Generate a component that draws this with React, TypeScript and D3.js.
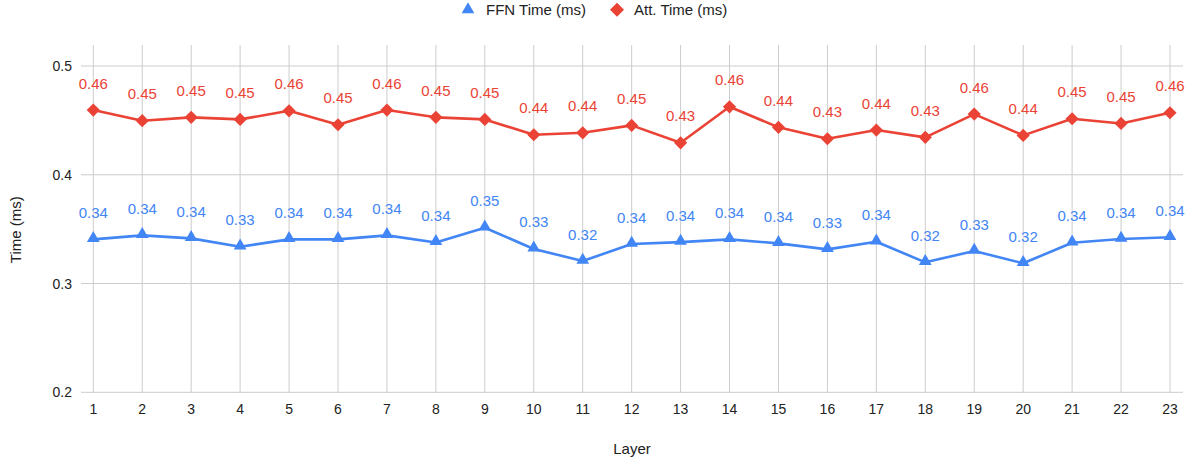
import React from "react";
import * as d3 from "d3";

const layers: number[] = d3.range(1, 24);
const ffnTime: number[] = [0.3406, 0.3443, 0.3415, 0.3338, 0.3406, 0.3406, 0.3443, 0.3378, 0.3513, 0.3318, 0.3207, 0.3363, 0.3381, 0.3406, 0.3369, 0.3314, 0.3384, 0.3195, 0.3299, 0.3186, 0.3375, 0.3409, 0.3425];
const attTime: number[] = [0.4595, 0.4497, 0.4528, 0.4509, 0.4588, 0.446, 0.4595, 0.4528, 0.4509, 0.4368, 0.4386, 0.4454, 0.4294, 0.4625, 0.4436, 0.4331, 0.4411, 0.4344, 0.4558, 0.4362, 0.4515, 0.4472, 0.457];
const yTicks: number[] = [0.2, 0.3, 0.4, 0.5];
const seriesNames: string[] = ["FFN Time (ms)", "Att. Time (ms)"];

const W = 1192;
const H = 462;
const BLUE = "#4285F4";
const RED = "#EA4335";
const FONT = "'Liberation Sans', Arial, sans-serif";

export default function App() {
  const x = d3.scalePoint<number>().domain(layers).range([93.3, 1170]);
  const y = d3.scaleLinear().domain([0.2, 0.5]).range([392.3, 66]);
  const plotTop = 45;
  const gridLeft = 81;
  const gridRight = 1183;

  const line = d3
    .line<number>()
    .x((_, i) => x(layers[i]) as number)
    .y((d) => y(d));

  const tri = d3.symbol().type(d3.symbolTriangle).size(70)() as string;
  const dia = (r: number) => `M0,${-r}L${r},0L0,${r}L${-r},0Z`;

  return (
    <svg
      width={W}
      height={H}
      style={{ position: "absolute", left: 0, top: 0, background: "#fff" }}
      fontFamily={FONT}
    >
      <rect width={W} height={H} fill="#fff" />
      {/* grid */}
      {yTicks.map((t) => (
        <line key={"h" + t} x1={gridLeft} x2={gridRight} y1={y(t)} y2={y(t)} stroke="#cccccc" strokeWidth={1} />
      ))}
      {layers.map((l) => (
        <line key={"v" + l} x1={x(l)} x2={x(l)} y1={plotTop} y2={y(0.2)} stroke="#cccccc" strokeWidth={1} />
      ))}
      {/* y tick labels */}
      {yTicks.map((t) => (
        <text key={"yt" + t} x={72} y={y(t) + 5} textAnchor="end" fontSize={14} fill="#222">
          {d3.format(".1f")(t)}
        </text>
      ))}
      {/* x tick labels */}
      {layers.map((l) => (
        <text key={"xt" + l} x={x(l)} y={414} textAnchor="middle" fontSize={14} fill="#222">
          {l}
        </text>
      ))}
      {/* axis titles */}
      <text x={632} y={454} textAnchor="middle" fontSize={15} fill="#222">Layer</text>
      <text transform={`translate(20.5,229.7) rotate(-90)`} textAnchor="middle" fontSize={15} fill="#222">Time (ms)</text>

      {/* lines */}
      <path d={line(attTime) as string} fill="none" stroke={RED} strokeWidth={2.6} strokeLinejoin="round" />
      <path d={line(ffnTime) as string} fill="none" stroke={BLUE} strokeWidth={2.6} strokeLinejoin="round" />

      {/* markers */}
      {attTime.map((v, i) => (
        <path key={"am" + i} d={dia(6.6)} transform={`translate(${x(layers[i])},${y(v)})`} fill={RED} />
      ))}
      {ffnTime.map((v, i) => (
        <path key={"fm" + i} d={tri} transform={`translate(${x(layers[i])},${y(v) - 1})`} fill={BLUE} />
      ))}

      {/* data labels */}
      {attTime.map((v, i) => (
        <text key={"al" + i} x={x(layers[i])} y={y(v) - 21.5} textAnchor="middle" fontSize={15} fill={RED}>
          {d3.format(".2f")(v)}
        </text>
      ))}
      {ffnTime.map((v, i) => (
        <text key={"fl" + i} x={x(layers[i])} y={y(v) - 21.5} textAnchor="middle" fontSize={15} fill={BLUE}>
          {d3.format(".2f")(v)}
        </text>
      ))}

      {/* legend */}
      <path d={tri} transform="translate(468,9.5)" fill={BLUE} />
      <text x={486} y={15} fontSize={15} fill="#222">{seriesNames[0]}</text>
      <path d={dia(7)} transform="translate(617,9.7)" fill={RED} />
      <text x={634} y={15} fontSize={15} fill="#222">{seriesNames[1]}</text>
    </svg>
  );
}
